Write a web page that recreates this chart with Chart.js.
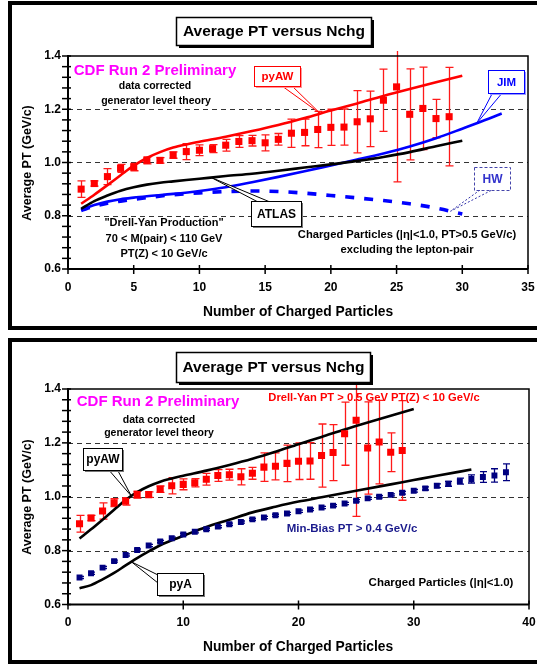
<!DOCTYPE html>
<html><head><meta charset="utf-8">
<script src="https://cdn.jsdelivr.net/npm/chart.js@4.4.1/dist/chart.umd.min.js"></script>
<style>
html,body{margin:0;padding:0;background:#fff;}
#wrap{position:relative;width:537px;height:666px;overflow:hidden;}
canvas{position:absolute;left:0;}
</style></head><body>
<div id="wrap">
<canvas id="c1" width="537" height="333" style="top:0"></canvas>
<canvas id="c2" width="537" height="333" style="top:333px"></canvas>
</div>
<script>
// ---------------- data ----------------
const yTicks = [0.6, 0.8, 1.0, 1.2, 1.4];
const topXTicks = [0, 5, 10, 15, 20, 25, 30, 35];
const botXTicks = [0, 10, 20, 30, 40];

// Drell-Yan data (both panels)
const dyN = [1,2,3,4,5,6,7,8,9,10,11,12,13,14,15,16,17,18,19,20,21,22,23,24,25,26,27,28,29];
const dyPT = [0.900,0.921,0.947,0.978,0.983,1.008,1.008,1.028,1.041,1.046,1.052,1.065,1.079,1.082,1.074,1.087,1.110,1.113,1.124,1.132,1.133,1.153,1.164,1.234,1.284,1.181,1.203,1.165,1.172];
const dyErr = [0.031,0.010,0.030,0.015,0.014,0.013,0.010,0.012,0.030,0.020,0.015,0.022,0.022,0.020,0.030,0.022,0.053,0.050,0.068,0.068,0.068,0.117,0.104,0.117,0.357,0.171,0.155,0.072,0.185];

// Min-Bias data (bottom panel)
const mbN = [1,2,3,4,5,6,7,8,9,10,11,12,13,14,15,16,17,18,19,20,21,22,23,24,25,26,27,28,29,30,31,32,33,34,35,36,37,38];
const mbPT = [0.700,0.716,0.737,0.761,0.784,0.802,0.819,0.834,0.846,0.860,0.870,0.879,0.889,0.898,0.906,0.916,0.923,0.931,0.938,0.946,0.953,0.960,0.967,0.975,0.985,0.994,1.000,1.007,1.015,1.022,1.031,1.041,1.048,1.058,1.066,1.073,1.079,1.091];
const mbErr = [0.004,0.004,0.004,0.004,0.004,0.004,0.004,0.004,0.004,0.004,0.004,0.004,0.004,0.004,0.004,0.004,0.004,0.004,0.004,0.004,0.004,0.004,0.004,0.004,0.004,0.004,0.004,0.004,0.005,0.005,0.006,0.007,0.009,0.011,0.015,0.020,0.025,0.031];

// generator curves
const pyawN = [1,2,3,4,5,6,7,8,9,10,12,14,16,18,20,22,24,26,28,30];
const pyawPT = [0.845,0.879,0.915,0.952,0.988,1.017,1.039,1.056,1.068,1.078,1.097,1.118,1.141,1.167,1.195,1.222,1.250,1.276,1.301,1.326];
const atlasN = [1,2,3,4,5,6,7,8,10,12,14,16,18,20,22,24,26,28,30];
const atlasPT = [0.826,0.855,0.876,0.894,0.907,0.917,0.924,0.929,0.939,0.949,0.958,0.969,0.981,0.993,1.006,1.021,1.039,1.061,1.082];
const jimN = [1,2,3,4,5,6,8,10,12,14,16,18,20,22,24,26,28,30,32,33];
const jimPT = [0.822,0.840,0.853,0.862,0.868,0.873,0.882,0.893,0.907,0.926,0.946,0.967,0.989,1.011,1.034,1.060,1.091,1.127,1.164,1.184];
const hwN = [1,2,3,4,5,6,8,10,12,14,16,18,20,22,24,26,28,30];
const hwPT = [0.820,0.836,0.847,0.855,0.862,0.868,0.879,0.886,0.891,0.893,0.891,0.885,0.876,0.867,0.857,0.845,0.829,0.807];
const pyaN = [1,2,3,4,5,6,7,8,9,10,12,14,16,18,20,22,25,28,30,32,35];
const pyaPT = [0.660,0.672,0.693,0.717,0.745,0.772,0.797,0.820,0.838,0.855,0.888,0.915,0.942,0.963,0.982,0.998,1.022,1.046,1.062,1.078,1.101];

// ---------------- helpers ----------------
const FONT = "'Liberation Sans', Arial, Helvetica, sans-serif";
const pts = (xs, ys) => xs.map((x, i) => ({x: x, y: ys[i]}));
function interp(xs, ys, x) {
  for (let i = 0; i < xs.length - 1; i++) {
    if (x >= xs[i] && x <= xs[i+1]) { const t = (x - xs[i]) / (xs[i+1] - xs[i]); return ys[i] + t * (ys[i+1] - ys[i]); }
  }
  return ys[ys.length - 1];
}
function txt(ctx, s, x, y, size, color, align, rot) {
  ctx.save();
  ctx.font = 'bold ' + size + 'px ' + FONT;
  ctx.fillStyle = color || '#000';
  ctx.textAlign = align || 'center';
  ctx.textBaseline = 'middle';
  ctx.translate(x, y);
  if (rot) ctx.rotate(rot);
  ctx.fillText(s, 0, 0);
  ctx.restore();
}
function box(ctx, x, y, w, h, o) {
  ctx.save();
  if (o.shadow) { ctx.fillStyle = o.shadow; ctx.fillRect(x + o.sh, y + o.sh, w, h); }
  ctx.fillStyle = '#fff'; ctx.fillRect(x, y, w, h);
  ctx.lineWidth = o.lw || 1; ctx.strokeStyle = o.stroke;
  if (o.dash) ctx.setLineDash(o.dash);
  ctx.strokeRect(x + 0.5, y + 0.5, w, h);
  ctx.restore();
  txt(ctx, o.text, x + w / 2 + 0.5, y + h / 2 + 1, o.size, o.color);
}
function wedge(ctx, ax, ay, bx, by, tx, ty, color, dash) {
  ctx.save();
  ctx.beginPath(); ctx.moveTo(ax, ay); ctx.lineTo(tx, ty); ctx.lineTo(bx, by); ctx.closePath();
  ctx.fillStyle = '#fff'; if (!dash) ctx.fill();
  ctx.beginPath(); ctx.moveTo(ax, ay); ctx.lineTo(tx, ty); ctx.lineTo(bx, by);
  ctx.strokeStyle = color; ctx.lineWidth = 1; if (dash) ctx.setLineDash(dash);
  ctx.stroke(); ctx.restore();
}
function frameAndGrid(chart, frameY, frameH) {
  const {ctx, chartArea: a, scales: {x, y}} = chart;
  ctx.save();
  ctx.fillStyle = '#fff'; ctx.fillRect(0, 0, chart.width, chart.height);
  ctx.lineWidth = 4; ctx.strokeStyle = '#000';
  ctx.strokeRect(10, frameY, 540, frameH);
  ctx.lineWidth = 1; ctx.strokeStyle = '#333'; ctx.setLineDash([5, 4]);
  yTicks.forEach(v => {
    if (v <= y.min || v >= y.max) return;
    const py = Math.round(y.getPixelForValue(v)) + 0.5;
    ctx.beginPath(); ctx.moveTo(a.left, py); ctx.lineTo(a.right, py); ctx.stroke();
  });
  ctx.restore();
}
function axesDraw(chart, xt) {
  const {ctx, chartArea: a, scales: {x, y}} = chart;
  ctx.save(); ctx.strokeStyle = '#000';
  ctx.lineWidth = 1.5;
  ctx.beginPath(); ctx.moveTo(a.left, a.top); ctx.lineTo(a.right, a.top); ctx.lineTo(a.right, a.bottom); ctx.stroke();
  ctx.lineWidth = 2;
  ctx.beginPath(); ctx.moveTo(a.left, a.top - 1); ctx.lineTo(a.left, a.bottom); ctx.lineTo(a.right, a.bottom); ctx.stroke();
  ctx.lineWidth = 1.5;
  for (let v = y.min; v <= y.max + 1e-9; v += 0.04) {
    const py = y.getPixelForValue(v);
    ctx.beginPath(); ctx.moveTo(a.left - 6, py); ctx.lineTo(a.left + 3, py); ctx.stroke();
  }
  xt.forEach(v => {
    const px = x.getPixelForValue(v);
    ctx.beginPath(); ctx.moveTo(px, a.bottom - 4); ctx.lineTo(px, a.bottom + 5); ctx.stroke();
  });
  ctx.restore();
}
const errorBars = {
  id: 'errorBars',
  beforeDatasetsDraw(chart) {
    const {ctx, chartArea: a, scales: {x, y}} = chart;
    chart.data.datasets.forEach(ds => {
      if (!ds.errors) return;
      ctx.save(); ctx.strokeStyle = ds.errColor; ctx.lineWidth = 1.3;
      ds.data.forEach((p, j) => {
        const e = ds.errors[j];
        const px = Math.round(x.getPixelForValue(p.x)) + 0.5;
        let top = y.getPixelForValue(p.y + e);
        const bot = y.getPixelForValue(p.y - e);
        const clipTop = a.top - 5;
        const capT = top >= clipTop;
        top = Math.max(top, clipTop);
        const c = ds.capW / 2;
        ctx.beginPath(); ctx.moveTo(px, top); ctx.lineTo(px, bot);
        if (capT) { ctx.moveTo(px - c, top); ctx.lineTo(px + c, top); }
        ctx.moveTo(px - c, bot); ctx.lineTo(px + c, bot);
        ctx.stroke();
      });
      ctx.restore();
    });
  }
};
function scaleOpts(xt, xmax, xh) {
  const tickFont = {family: FONT, weight: 'bold', size: 12};
  return {
    x: {type: 'linear', min: 0, max: xmax,
        afterBuildTicks: s => { s.ticks = xt.map(v => ({value: v})); },
        afterFit: s => { s.height = xh; s.paddingLeft = 0; s.paddingRight = 0; },
        grid: {display: false, drawTicks: false}, border: {display: false},
        ticks: {font: tickFont, color: '#000', padding: 11, maxRotation: 0, autoSkip: false}},
    y: {type: 'linear', min: 0.6, max: 1.4,
        afterBuildTicks: s => { s.ticks = yTicks.map(v => ({value: v})); },
        afterFit: s => { s.width = 68; s.paddingTop = 0; s.paddingBottom = 0; },
        grid: {display: false, drawTicks: false}, border: {display: false},
        ticks: {font: tickFont, color: '#000', padding: 7, callback: v => Number(v).toFixed(1)}}
  };
}
const lineDs = (label, xs, ys, color, extra) => Object.assign({
  label: label, data: pts(xs, ys), borderColor: color, backgroundColor: color,
  borderWidth: 2.6, pointRadius: 0, cubicInterpolationMode: 'monotone', fill: false
}, extra || {});

// ---------------- top panel ----------------
const topDecor = {
  id: 'topDecor',
  beforeDraw(chart) { frameAndGrid(chart, 3, 325); },
  afterDatasetsDraw(chart) {
    const {ctx, scales: {x, y}} = chart;
    axesDraw(chart, topXTicks);
    box(ctx, 176, 17, 195, 28, {stroke: '#000', lw: 1.5, shadow: '#000', sh: 3, text: 'Average PT versus Nchg', size: 15.5, color: '#000'});
    txt(ctx, 'CDF Run 2 Preliminary', 155, 71, 15, '#ff00ff');
    txt(ctx, 'data corrected', 155, 86, 10.5, '#000');
    txt(ctx, 'generator level theory', 156, 101, 10.5, '#000');
    txt(ctx, '"Drell-Yan Production"', 164, 223, 11, '#000');
    txt(ctx, '70 < M(pair) < 110 GeV', 164, 239, 11, '#000');
    txt(ctx, 'PT(Z) < 10 GeV/c', 164, 254, 11, '#000');
    txt(ctx, 'Charged Particles (|\u03B7|<1.0, PT>0.5 GeV/c)', 407, 235, 11.2, '#000');
    txt(ctx, 'excluding the lepton-pair', 407, 250, 11.2, '#000');
    let t = [x.getPixelForValue(19.2), y.getPixelForValue(interp(pyawN, pyawPT, 19.2))];
    wedge(ctx, 282, 86, 292, 86, t[0], t[1], '#ff0000');
    box(ctx, 254, 66, 46, 20, {stroke: '#ff0000', shadow: '#ff9999', sh: 2, text: 'pyAW', size: 11.5, color: '#ff0000'});
    t = [x.getPixelForValue(31.1), y.getPixelForValue(interp(jimN, jimPT, 31.1))];
    wedge(ctx, 493, 92, 503, 92, t[0], t[1], '#0000ff');
    box(ctx, 488, 70, 36, 23, {stroke: '#0000ff', shadow: '#9999ff', sh: 2, text: 'JIM', size: 11.5, color: '#0000ff'});
    t = [x.getPixelForValue(29.1), y.getPixelForValue(interp(hwN, hwPT, 29.1))];
    wedge(ctx, 480, 190, 492, 190, t[0], t[1], '#3333aa', [2, 2]);
    box(ctx, 474, 167, 36, 23, {stroke: '#4444aa', dash: [3, 2], text: 'HW', size: 12, color: '#3333cc'});
    t = [x.getPixelForValue(10.9), y.getPixelForValue(interp(atlasN, atlasPT, 10.9))];
    wedge(ctx, 258, 202, 270, 202, t[0], t[1], '#000');
    box(ctx, 251, 201, 50, 25, {stroke: '#000', shadow: '#777', sh: 2, text: 'ATLAS', size: 12, color: '#000'});
    txt(ctx, 'Average PT (GeV/c)', 28, 163, 12.5, '#000', 'center', -Math.PI / 2);
    txt(ctx, 'Number of Charged Particles', 298, 312, 13.8, '#000');
  }
};
new Chart(document.getElementById('c1'), {
  type: 'line',
  data: {datasets: [
    {label: 'Drell-Yan data', data: pts(dyN, dyPT), errors: dyErr, errColor: '#ff1a1a', capW: 8, showLine: false,
     pointStyle: 'rect', pointRadius: 5, pointBorderWidth: 0, backgroundColor: '#ff0000', borderColor: '#ff0000'},
    lineDs('pyAW', pyawN, pyawPT, '#ff0000'),
    lineDs('ATLAS', atlasN, atlasPT, '#000000'),
    lineDs('JIM', jimN, jimPT, '#0000ff'),
    lineDs('HW', hwN, hwPT, '#0000ff', {borderDash: [9, 10], borderWidth: 3.6, borderCapStyle: 'butt'})
  ]},
  options: {
    responsive: false, animation: false, devicePixelRatio: 1,
    layout: {padding: {left: 0, right: 9, top: 56, bottom: 0}},
    plugins: {legend: {display: false}, tooltip: {enabled: false}},
    scales: scaleOpts(topXTicks, 35, 64)
  },
  plugins: [topDecor, errorBars]
});

// ---------------- bottom panel ----------------
const botDecor = {
  id: 'botDecor',
  beforeDraw(chart) { frameAndGrid(chart, 7, 322); },
  afterDatasetsDraw(chart) {
    const {ctx, scales: {x, y}} = chart;
    axesDraw(chart, botXTicks);
    box(ctx, 176, 19, 194, 30, {stroke: '#000', lw: 1.5, shadow: '#000', sh: 3, text: 'Average PT versus Nchg', size: 15.5, color: '#000'});
    txt(ctx, 'CDF Run 2 Preliminary', 158, 69, 15, '#ff00ff');
    txt(ctx, 'data corrected', 159, 87, 10.5, '#000');
    txt(ctx, 'generator level theory', 159, 100.5, 10.5, '#000');
    txt(ctx, 'Drell-Yan PT > 0.5 GeV PT(Z) < 10 GeV/c', 374, 65, 11.2, '#ff0000');
    txt(ctx, 'Min-Bias PT > 0.4 GeV/c', 352, 196, 11.5, '#1a1a8c');
    txt(ctx, 'Charged Particles (|\u03B7|<1.0)', 441, 250, 11.5, '#000');
    let t = [x.getPixelForValue(5.5), y.getPixelForValue(interp(pyawN, pyawPT, 5.5))];
    wedge(ctx, 108, 136, 117, 136, t[0], t[1], '#000');
    box(ctx, 83, 115, 39, 22, {stroke: '#000', shadow: '#777', sh: 2, text: 'pyAW', size: 12, color: '#000'});
    t = [x.getPixelForValue(5.5), y.getPixelForValue(interp(pyaN, pyaPT, 5.5))];
    wedge(ctx, 158, 242, 158, 250, t[0], t[1], '#000');
    box(ctx, 157, 240, 46, 22, {stroke: '#000', shadow: '#777', sh: 2, text: 'pyA', size: 12, color: '#000'});
    txt(ctx, 'Average PT (GeV/c)', 28, 164, 12.5, '#000', 'center', -Math.PI / 2);
    txt(ctx, 'Number of Charged Particles', 298, 314, 13.8, '#000');
  }
};
new Chart(document.getElementById('c2'), {
  type: 'line',
  data: {datasets: [
    {label: 'Drell-Yan data', data: pts(dyN, dyPT), errors: dyErr, errColor: '#ff1a1a', capW: 8, showLine: false,
     pointStyle: 'rect', pointRadius: 5, pointBorderWidth: 0, backgroundColor: '#ff0000', borderColor: '#ff0000'},
    {label: 'Min-Bias data', data: pts(mbN, mbPT), errors: mbErr, errColor: '#000080', capW: 7, showLine: false,
     pointStyle: 'rect', pointRadius: 4.2, pointBorderWidth: 0, backgroundColor: '#000080', borderColor: '#000080'},
    lineDs('pyAW', pyawN, pyawPT, '#000000'),
    lineDs('pyA', pyaN, pyaPT, '#000000')
  ]},
  options: {
    responsive: false, animation: false, devicePixelRatio: 1,
    layout: {padding: {left: 0, right: 8, top: 56, bottom: 0}},
    plugins: {legend: {display: false}, tooltip: {enabled: false}},
    scales: scaleOpts(botXTicks, 40, 61.5)
  },
  plugins: [botDecor, errorBars]
});
</script>
</body></html>
